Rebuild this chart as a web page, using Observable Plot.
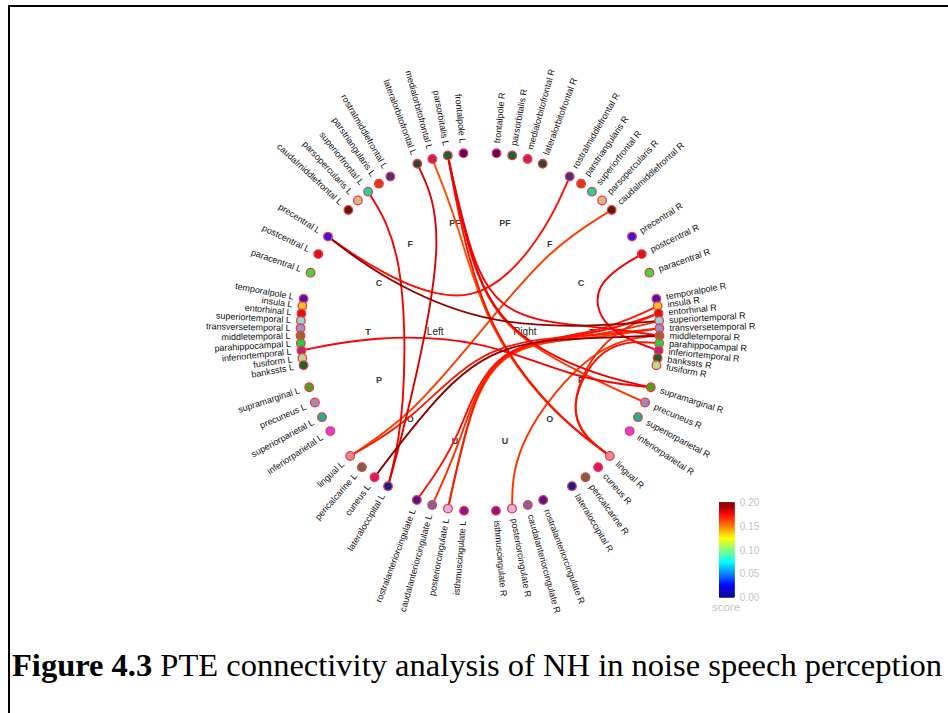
<!DOCTYPE html>
<html><head><meta charset="utf-8">
<script src="https://cdn.jsdelivr.net/npm/d3@7"></script>
<script src="https://cdn.jsdelivr.net/npm/@observablehq/plot@0.6"></script>
<style>
html,body{margin:0;padding:0;background:#fff;width:948px;height:713px;overflow:hidden;}
#frame{position:absolute;left:8px;top:5px;width:1000px;height:800px;border-left:2px solid #000;border-top:2px solid #000;z-index:10;pointer-events:none;}
#chart{position:absolute;left:0;top:0;width:948px;}
#cbar{position:absolute;left:700px;top:490px;width:80px;}
#score{position:absolute;left:712px;top:601px;font-family:"Liberation Sans",Arial,sans-serif;font-size:11.5px;color:#c4c4c4;}
#caption{position:absolute;left:12px;top:649px;font-family:"Liberation Serif","Times New Roman",serif;font-size:32.5px;line-height:32.5px;white-space:nowrap;color:#000;}
</style></head>
<body>
<div id="chart"></div>
<div id="cbar"></div>
<div id="score">score</div>
<div id="caption"><b>Figure 4.3</b> PTE connectivity analysis of NH in noise speech perception</div>
<div id="frame"></div>
<script>
// ---------------- data ----------------
const hemispheres = ["L", "R"];
const hemisphereNames = ["Left", "Right"];
const lobeNames = ["PF", "F", "C", "T", "P", "O", "U"];

const prefrontalRegions = ["frontalpole", "parsorbitalis", "medialorbitofrontal", "lateralorbitofrontal"];
const frontalRegions = ["rostralmiddlefrontal", "parstriangularis", "superiorfrontal", "parsopercularis", "caudalmiddlefrontal"];
const centralRegions = ["precentral", "postcentral", "paracentral"];
const temporalRegionsL = ["temporalpole", "insula", "entorhinal", "superiortemporal", "transversetemporal", "middletemporal", "parahippocampal", "inferiortemporal", "fusiform", "bankssts"];
const temporalRegionsR = ["temporalpole", "insula", "entorhinal", "superiortemporal", "transversetemporal", "middletemporal", "parahippocampal", "inferiortemporal", "bankssts", "fusiform"];
const parietalRegions = ["supramarginal", "precuneus", "superiorparietal", "inferiorparietal"];
const occipitalRegionsL = ["lingual", "pericalcarine", "cuneus", "lateraloccipital"];
const occipitalRegionsR = ["lingual", "cuneus", "pericalcarine", "lateraloccipital"];
const cingulateRegions = ["rostralanteriorcingulate", "caudalanteriorcingulate", "posteriorcingulate", "isthmuscingulate"];

// connections: [from, to, score]
const edges = [
  ["precentral L", "superiortemporal R", 0.196],
  ["precentral L", "rostralmiddlefrontal R", 0.172],
  ["inferiortemporal L", "supramarginal R", 0.175],
  ["cuneus L", "middletemporal R", 0.197],
  ["lingual L", "caudalmiddlefrontal R", 0.163],
  ["lingual L", "transversetemporal R", 0.170],
  ["medialorbitofrontal L", "lingual R", 0.160],
  ["parsorbitalis L", "supramarginal R", 0.178],
  ["parsorbitalis L", "precuneus R", 0.165],
  ["parsorbitalis L", "lingual R", 0.172],
  ["parsorbitalis L", "middletemporal R", 0.175],
  ["lateralorbitofrontal L", "lateraloccipital L", 0.182],
  ["superiorfrontal L", "lateraloccipital L", 0.176],
  ["rostralanteriorcingulate L", "entorhinal R", 0.172],
  ["caudalanteriorcingulate L", "superiortemporal R", 0.166],
  ["posteriorcingulate L", "transversetemporal R", 0.162],
  ["posteriorcingulate L", "insula R", 0.170],
  ["posteriorcingulate R", "middletemporal R", 0.165],
  ["lingual R", "entorhinal R", 0.168],
  ["lingual R", "parahippocampal R", 0.172],
  ["postcentral R", "inferiortemporal R", 0.176]
];

const colorbarTicks = [0, 0.05, 0.10, 0.15, 0.20];
const scoreDomain = [0, 0.20];

// ---------------- styles ----------------
const regionColors = {
  bankssts: "rgb(25,100,40)", caudalanteriorcingulate: "rgb(125,100,160)", caudalmiddlefrontal: "rgb(100,25,0)",
  cuneus: "rgb(220,20,100)", entorhinal: "rgb(220,20,10)", fusiform: "rgb(180,220,140)",
  inferiorparietal: "rgb(220,60,220)", inferiortemporal: "rgb(180,40,120)", isthmuscingulate: "rgb(140,20,140)",
  lateraloccipital: "rgb(20,30,140)", lateralorbitofrontal: "rgb(35,75,50)", lingual: "rgb(225,140,140)",
  medialorbitofrontal: "rgb(200,35,75)", middletemporal: "rgb(160,100,50)", parahippocampal: "rgb(20,220,60)",
  paracentral: "rgb(60,220,60)", parsopercularis: "rgb(220,180,140)", parsorbitalis: "rgb(20,100,50)",
  parstriangularis: "rgb(220,60,20)", pericalcarine: "rgb(120,100,60)", postcentral: "rgb(220,20,20)",
  posteriorcingulate: "rgb(220,180,220)", precentral: "rgb(60,20,220)", precuneus: "rgb(160,140,180)",
  rostralanteriorcingulate: "rgb(80,20,140)", rostralmiddlefrontal: "rgb(75,50,125)", superiorfrontal: "rgb(20,220,160)",
  superiorparietal: "rgb(20,180,140)", superiortemporal: "rgb(140,220,220)", supramarginal: "rgb(80,160,20)",
  frontalpole: "rgb(100,0,100)", temporalpole: "rgb(70,20,170)", transversetemporal: "rgb(150,150,200)",
  insula: "rgb(255,192,32)"
};
const jetColors = ["#00007f", "#0000ff", "#007fff", "#00ffff", "#7fff7f", "#ffff00", "#ff7f00", "#ff0000", "#7f0000"];
const jet = d3.piecewise(d3.interpolateRgb, jetColors);

// ---------------- layout ----------------
const W = 948, H = 640, CX = 479.5, CY = 331.5;
const R_NODE = 179.5, R_LABEL = 189.5, R_LOBE = 112, R_HEMI = 44.8;
const lobeSpacing = {PF: 5.05, F: 4.3, C: 6.4, T: 2.37, P: 5.2, O: 5.17, U: 5.17};
const lobeRegions = {
  L: [prefrontalRegions, frontalRegions, centralRegions, temporalRegionsL, parietalRegions, occipitalRegionsL, cingulateRegions],
  R: [prefrontalRegions, frontalRegions, centralRegions, temporalRegionsR, parietalRegions, occipitalRegionsR, cingulateRegions]
};
const rad = Math.PI / 180;
const polar = (r, deg) => ({x: r * Math.sin(deg * rad), y: -r * Math.cos(deg * rad)});

const nodes = [];
const nodeByName = new Map();
const lobePts = [];
hemispheres.forEach((h, hi) => {
  const s = h === "L" ? -1 : 1;
  lobeNames.forEach((lobe, li) => {
    const center = (li + 0.5) * 180 / lobeNames.length;
    const lp = polar(R_LOBE, s * center);
    lobePts.push({key: lobe + h, label: lobe, ...lp});
    const regs = lobeRegions[h][li];
    regs.forEach((reg, j) => {
      const ang = s * (center + (j - (regs.length - 1) / 2) * lobeSpacing[lobe]);
      const p = polar(R_NODE, ang);
      const lbl = polar(R_LABEL, ang);
      const n = {name: reg + " " + h, region: reg, hemi: h, lobe: lobe + h, angle: ang,
        x: p.x, y: p.y, lx: lbl.x, ly: lbl.y,
        rot: h === "R" ? ang - 90 : ang + 90, color: regionColors[reg]};
      nodes.push(n);
      nodeByName.set(n.name, n);
    });
  });
});
const lobeByKey = new Map(lobePts.map(d => [d.key, d]));
const hemiPts = hemispheres.map((h, i) => ({label: hemisphereNames[i], ...polar(R_HEMI, h === "L" ? -90 : 90)}));

const scoreColor = Plot.scale({color: {type: "linear", domain: scoreDomain, interpolate: jet}});

const pathRows = [];
edges.map((e, i) => ({e, i})).sort((a, b) => a.e[2] - b.e[2]).forEach(({e, i}) => {
  const a = nodeByName.get(e[0]), b = nodeByName.get(e[1]);
  const la = lobeByKey.get(a.lobe), lb = lobeByKey.get(b.lobe);
  let pts;
  if (a.hemi !== b.hemi) pts = [a, la, {x: 0, y: 0}, lb, b];
  else if (a.lobe === b.lobe) pts = [a, la, b];
  else pts = [a, la, lb, b];
  const col = scoreColor.apply(e[2]);
  pts.forEach(p => pathRows.push({id: i, x: p.x, y: p.y, color: col}));
});

const labelFont = "'Liberation Sans', Arial, sans-serif";

const chart = Plot.plot({
  width: W, height: H,
  margin: 0,
  style: {background: "transparent", overflow: "visible"},
  x: {domain: [-CX, W - CX], range: [0, W], axis: null},
  y: {domain: [-CY, H - CY], range: [0, H], axis: null},
  color: {type: "identity"},
  marks: [
    Plot.text(lobePts, {x: "x", y: "y", text: "label", fontSize: 9, fontWeight: "bold", fill: "#3a3a3a", fontFamily: labelFont}),
    Plot.text(hemiPts, {x: "x", y: "y", text: "label", fontSize: 10, fill: "#222", fontFamily: labelFont}),
    Plot.line(pathRows, {x: "x", y: "y", z: "id", stroke: "color", strokeWidth: 1.9, curve: "bundle", tension: 0.85, strokeLinecap: "round"}),
    Plot.dot(nodes, {x: "x", y: "y", r: 4.3, fill: "color", stroke: "#ec3c4c", strokeWidth: 1.3}),
    Plot.text(nodes.filter(d => d.hemi === "L"), {x: "lx", y: "ly", text: "name", rotate: "rot", textAnchor: "end", fontSize: 9, fill: "#111", fontFamily: labelFont}),
    Plot.text(nodes.filter(d => d.hemi === "R"), {x: "lx", y: "ly", text: "name", rotate: "rot", textAnchor: "start", fontSize: 9, fill: "#111", fontFamily: labelFont})
  ]
});
document.getElementById("chart").appendChild(chart);

// colorbar
const steps = d3.range(100).map(i => ({y1: scoreDomain[0] + i * (scoreDomain[1] - scoreDomain[0]) / 100, y2: scoreDomain[0] + (i + 1) * (scoreDomain[1] - scoreDomain[0]) / 100}));
steps.forEach(d => d.v = (d.y1 + d.y2) / 2);
const cbar = Plot.plot({
  width: 80, height: 120, margin: 0,
  style: {background: "transparent", overflow: "visible"},
  x: {domain: [0, 1], range: [19.3, 34.3], axis: null},
  y: {domain: scoreDomain, range: [107.3, 12.3], axis: null},
  color: {type: "linear", domain: scoreDomain, interpolate: jet},
  marks: [
    Plot.rect(steps, {x1: 0, x2: 1, y1: "y1", y2: "y2", fill: "v", stroke: "v", strokeWidth: 0.6}),
    Plot.text(colorbarTicks, {x: 1, y: d => d, text: d => d.toFixed(2), dx: 5, textAnchor: "start", fontSize: 10, fill: "#c4c4c4", fontFamily: labelFont})
  ]
});
document.getElementById("cbar").appendChild(cbar);
</script>
</body></html>
